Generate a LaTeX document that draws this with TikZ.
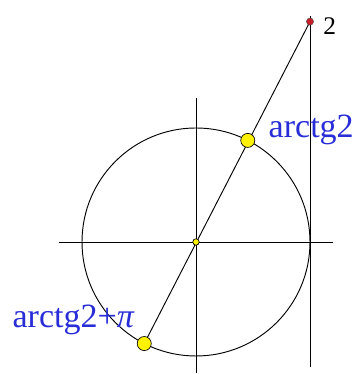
\documentclass[tikz,border=0pt]{standalone}
\usepackage{fontspec}
\setmainfont{Liberation Serif}
\usepackage{tikz}
\definecolor{lblue}{RGB}{40,45,215}
\definecolor{dotred}{RGB}{200,30,40}

\begin{document}
\begin{tikzpicture}[line width=0.7pt,
  ydot/.style={circle,draw=black,line width=0.5pt,fill=yellow,inner sep=0pt,minimum size=#1},
  lbl/.style={text=lblue,inner sep=0pt,font=\fontsize{25.5}{28}\selectfont}]
  \useasboundingbox (-5.158,-3.474) rectangle (4.211,6.368);
  % axes and tangent line
  \coordinate (xl) at (-3.6,0);
  \coordinate (xr) at (3.6,0);
  \coordinate (yb) at (0,-3.45);
  \coordinate (yt) at (0,3.79);
  \coordinate (tb) at (3,-3.29);
  \coordinate (tt) at (3,5.95);
  \draw (xl) -- (xr);
  \draw (yb) -- (yt);
  \draw (tb) -- (tt);
  \draw (0,0) circle (3);
  \coordinate (P) at (3,5.8);
  \coordinate (B) at (243:3);
  \draw (P) -- (B);
  \node[ydot=0.37cm] (A1) at (63:3) {};
  \node[ydot=0.37cm] (A2) at (B) {};
  \node[ydot=0.17cm] (O) at (0,0) {};
  \node[circle,draw=black!70,line width=0.3pt,fill=dotred,inner sep=0pt,minimum size=0.19cm] (Pd) at (P) {};
  \node[lbl,anchor=base west] (l1) at (1.9,2.76) {arctg2};
  \node[lbl,anchor=base west] (l2) at (-4.84,-2.26) {arctg2+\textit{π}};
  \node[anchor=base west,inner sep=0pt,font=\fontsize{19}{21}\selectfont] (l3) at (3.34,5.45) {2};
\end{tikzpicture}
\end{document}
